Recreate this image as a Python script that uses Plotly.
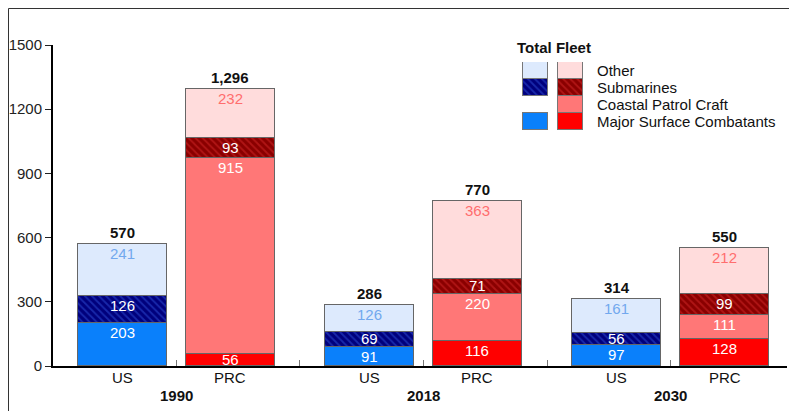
import plotly.graph_objects as go

# ---------------- data ----------------
years = ["1990", "2018", "2030"]
countries = ["US", "PRC"]

us_major = [203, 91, 97]
us_subs = [126, 69, 56]
us_other = [241, 126, 161]

prc_major = [56, 116, 128]
prc_coastal = [915, 220, 111]
prc_subs = [93, 71, 99]
prc_other = [232, 363, 212]

legend_labels = ["Other", "Submarines", "Coastal Patrol Craft", "Major Surface Combatants"]
legend_title = "Total Fleet"
y_ticks = [0, 300, 600, 900, 1200, 1500]

# ---------------- styling ----------------
FONT = "Arial, Liberation Sans, sans-serif"
EDGE = "#666666"
C = {
    "us_major": "#0a80fb", "us_subs": "#00007c", "us_subs_fg": "#3050d8", "us_other": "#ddeafd",
    "prc_major": "#ff0000", "prc_coastal": "#ff7777", "prc_subs": "#8a0000", "prc_subs_fg": "#d52a2a",
    "prc_other": "#ffdcdc",
}
US_OTHER_TXT = "#72a8ee"
PRC_OTHER_TXT = "#ff6e6e"

GROUP_STEP = 2.29
BAR_W = 0.82
x_us = [i * GROUP_STEP for i in range(len(years))]
x_prc = [i * GROUP_STEP + 1 for i in range(len(years))]
x_range = [-0.643, x_prc[-1] + 0.579]

fig = go.Figure()

def add_stack(xs, series, colors, patterns):
    for vals, col, pat in zip(series, colors, patterns):
        marker = dict(color=col, line=dict(color=EDGE, width=1))
        if pat:
            marker["pattern"] = dict(shape="\\", bgcolor=col, fgcolor=pat, size=5, solidity=0.35)
        fig.add_trace(go.Bar(x=xs, y=vals, width=BAR_W, marker=marker,
                             hoverinfo="skip", showlegend=False))

us_series = [us_major, us_subs, us_other]
us_cols = [C["us_major"], C["us_subs"], C["us_other"]]
us_pats = [None, C["us_subs_fg"], None]
us_txt = ["white", "white", US_OTHER_TXT]

prc_series = [prc_major, prc_coastal, prc_subs, prc_other]
prc_cols = [C["prc_major"], C["prc_coastal"], C["prc_subs"], C["prc_other"]]
prc_pats = [None, None, C["prc_subs_fg"], None]
prc_txt = ["white", "white", "white", PRC_OTHER_TXT]

add_stack(x_us, us_series, us_cols, us_pats)
add_stack(x_prc, prc_series, prc_cols, prc_pats)

annotations = []

def seg_labels(xs, series, txtcols):
    for gi, x in enumerate(xs):
        cum = 0
        for vals, tc in zip(series, txtcols):
            v = vals[gi]
            top = cum + v
            if v < 85:
                annotations.append(dict(x=x, y=cum + v / 2, text=str(v), showarrow=False,
                                        xref="x", yref="y", yanchor="middle", yshift=1,
                                        font=dict(family=FONT, size=15, color=tc)))
            else:
                annotations.append(dict(x=x, y=top, text=str(v), showarrow=False,
                                        xref="x", yref="y", yanchor="top", yshift=1,
                                        font=dict(family=FONT, size=15, color=tc)))
            cum = top
        annotations.append(dict(x=x, y=cum, text="<b>{:,}</b>".format(cum), showarrow=False,
                                xref="x", yref="y", yanchor="bottom", yshift=1,
                                font=dict(family=FONT, size=15, color="#111111")))

seg_labels(x_us, us_series, us_txt)
seg_labels(x_prc, prc_series, prc_txt)

# category labels below axis
for i, yr in enumerate(years):
    for x, c in ((x_us[i], countries[0]), (x_prc[i], countries[1])):
        annotations.append(dict(x=x, y=-0.037, xref="x", yref="paper", text=c, showarrow=False,
                                yanchor="middle", font=dict(family=FONT, size=15, color="#111111")))
    annotations.append(dict(x=(x_us[i] + x_prc[i]) / 2, y=-0.091, xref="x", yref="paper",
                            text="<b>%s</b>" % yr, showarrow=False, yanchor="middle",
                            font=dict(family=FONT, size=15, color="#111111")))

# tick marks at slot boundaries
xs_all = sorted(x_us + x_prc)
tickvals = [(a + b) / 2 for a, b in zip(xs_all[:-1], xs_all[1:])] + [x_range[1]]

# ---------------- custom legend ----------------
leg_rows = {"Other": 3, "Submarines": 2, "Coastal Patrol Craft": 1, "Major Surface Combatants": 0}
leg_us = {"Other": (C["us_other"], None), "Submarines": (C["us_subs"], C["us_subs_fg"]),
          "Major Surface Combatants": (C["us_major"], None)}
leg_prc = {"Other": (C["prc_other"], None), "Submarines": (C["prc_subs"], C["prc_subs_fg"]),
           "Coastal Patrol Craft": (C["prc_coastal"], None), "Major Surface Combatants": (C["prc_major"], None)}
for col_idx, d in ((0, leg_us), (1, leg_prc)):
    for name, (col, pat) in d.items():
        marker = dict(color=col, line=dict(color="#777777", width=1))
        if pat:
            marker["pattern"] = dict(shape="\\", bgcolor=col, fgcolor=pat, size=5, solidity=0.35)
        fig.add_trace(go.Bar(x=[col_idx], y=[1], base=[leg_rows[name]], width=0.714,
                             marker=marker, xaxis="x2", yaxis="y2",
                             hoverinfo="skip", showlegend=False))

row_y = {3: 0.922, 2: 0.869, 1: 0.816, 0: 0.763}
for name in legend_labels:
    annotations.append(dict(x=0.7384, y=row_y[leg_rows[name]], xref="paper", yref="paper",
                            text=name, showarrow=False, xanchor="left", yanchor="middle",
                            font=dict(family=FONT, size=15, color="#111111")))
annotations.append(dict(x=0.630, y=0.991, xref="paper", yref="paper",
                        text="<b>%s</b>" % legend_title, showarrow=False,
                        xanchor="left", yanchor="middle",
                        font=dict(family=FONT, size=15, color="#111111")))

# outer frame (top and left edges of the figure box)
FX = -44.5 / 734
FY = (321 + 36.5) / 321
shapes = [
    dict(type="line", xref="paper", yref="paper", x0=FX, x1=1.05, y0=FY, y1=FY,
         line=dict(color="#333333", width=1)),
    dict(type="line", xref="paper", yref="paper", x0=FX, x1=FX, y0=FY, y1=-0.3,
         line=dict(color="#333333", width=1)),
]

fig.update_layout(
    width=797, height=411,
    margin=dict(l=45, r=18, t=37, b=53, autoexpand=False),
    paper_bgcolor="white", plot_bgcolor="white",
    barmode="stack", bargap=0,
    font=dict(family=FONT, size=15, color="#111111"),
    annotations=annotations, shapes=shapes,
    xaxis=dict(range=x_range, showline=True, linecolor="black", linewidth=2, automargin=False,
               ticks="inside", tickvals=tickvals, ticklen=6, tickcolor="#777777", tickwidth=1,
               showticklabels=False, showgrid=False, zeroline=False, fixedrange=True),
    yaxis=dict(range=[0, 1500], tickvals=y_ticks, showline=True, linecolor="black", linewidth=2,
               automargin=False,
               ticks="outside", ticklen=6, tickcolor="#222222", tickwidth=1,
               tickfont=dict(family=FONT, size=15, color="#222222"),
               showgrid=False, zeroline=False, fixedrange=True),
    xaxis2=dict(domain=[0.6335, 0.7289], range=[-0.5, 1.5], anchor="y2", visible=False, fixedrange=True),
    yaxis2=dict(domain=[0.7352, 0.9470], range=[0, 4], anchor="x2", visible=False, fixedrange=True),
    showlegend=False,
)

fig.write_html("out.html")
